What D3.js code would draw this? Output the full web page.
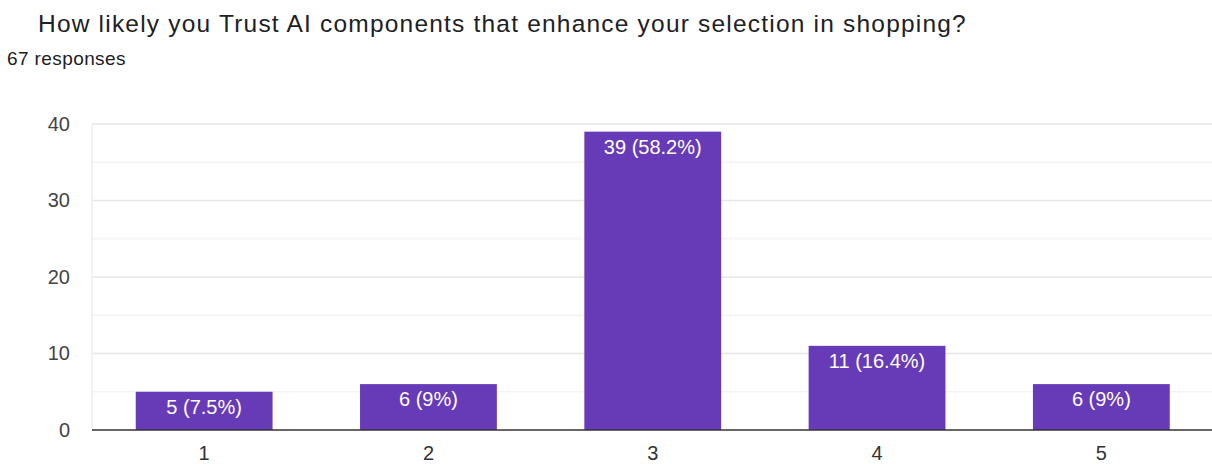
<!DOCTYPE html>
<html>
<head>
<meta charset="utf-8">
<script src="https://cdn.jsdelivr.net/npm/d3@7"></script>
<style>
  body { margin: 0; background: #fff; font-family: "Liberation Sans", Arial, sans-serif; }
  svg text { font-family: "Liberation Sans", Arial, sans-serif; }
</style>
</head>
<body>
<script>
const categories = ["1", "2", "3", "4", "5"];
const counts = [5, 6, 39, 11, 6];
const barLabels = ["5 (7.5%)", "6 (9%)", "39 (58.2%)", "11 (16.4%)", "6 (9%)"];
const yTicks = [0, 10, 20, 30, 40];
const minorTicks = [5, 15, 25, 35];

const w = 1212, h = 464;
const plotLeft = 92, plotRight = 1212, plotTop = 124, plotBottom = 430;

const svg = d3.select("body").append("svg")
  .attr("width", w)
  .attr("height", h);

svg.append("text")
  .attr("x", 38).attr("y", 32)
  .attr("font-size", 24.5).attr("fill", "#202124")
  .attr("letter-spacing", 1.2)
  .text("How likely you Trust AI components that enhance your selection in shopping?");

svg.append("text")
  .attr("x", 7).attr("y", 65)
  .attr("font-size", 19).attr("fill", "#202124")
  .attr("letter-spacing", 0.4)
  .text("67 responses");

const x = d3.scaleBand()
  .domain(categories)
  .range([plotLeft, plotLeft + 5 * 224.3])
  .paddingInner(0.39)
  .paddingOuter(0.195);

const y = d3.scaleLinear()
  .domain([0, 40])
  .range([plotBottom, plotTop]);

// minor gridlines
svg.append("g").selectAll("line")
  .data(minorTicks).enter().append("line")
  .attr("x1", plotLeft).attr("x2", plotRight)
  .attr("y1", d => y(d)).attr("y2", d => y(d))
  .attr("stroke", "#f3f3f3").attr("stroke-width", 1.5);

// major gridlines
svg.append("g").selectAll("line")
  .data(yTicks.filter(d => d > 0)).enter().append("line")
  .attr("x1", plotLeft).attr("x2", plotRight)
  .attr("y1", d => y(d)).attr("y2", d => y(d))
  .attr("stroke", "#e6e6e6").attr("stroke-width", 1.5);

// left vertical line
svg.append("line")
  .attr("x1", plotLeft).attr("x2", plotLeft)
  .attr("y1", plotTop).attr("y2", plotBottom)
  .attr("stroke", "#ececec").attr("stroke-width", 1.5);

// y axis labels
const yAxis = d3.axisLeft(y).tickValues(yTicks).tickSize(0).tickPadding(22);
const gy = svg.append("g")
  .attr("transform", "translate(" + plotLeft + ",0)")
  .call(yAxis);
gy.select(".domain").remove();
gy.selectAll("text").attr("font-size", 20).attr("fill", "#444");

// bars
svg.append("g").selectAll("rect")
  .data(counts).enter().append("rect")
  .attr("x", (d, i) => x(categories[i]))
  .attr("width", x.bandwidth())
  .attr("y", d => y(d))
  .attr("height", d => plotBottom - y(d))
  .attr("fill", "#673ab7");

svg.append("g").selectAll("text")
  .data(counts).enter().append("text")
  .attr("x", (d, i) => x(categories[i]) + x.bandwidth() / 2)
  .attr("y", d => y(d) + 22)
  .attr("text-anchor", "middle")
  .attr("font-size", 20)
  .attr("fill", "#fff")
  .text((d, i) => barLabels[i]);

// baseline
svg.append("line")
  .attr("x1", plotLeft).attr("x2", plotRight)
  .attr("y1", plotBottom).attr("y2", plotBottom)
  .attr("stroke", "#333").attr("stroke-width", 1.5);

// x axis labels
const xAxis = d3.axisBottom(x).tickSize(0).tickPadding(16);
const gx = svg.append("g")
  .attr("transform", "translate(0," + plotBottom + ")")
  .call(xAxis);
gx.select(".domain").remove();
gx.selectAll("text").attr("font-size", 20).attr("fill", "#333");
</script>
</body>
</html>
